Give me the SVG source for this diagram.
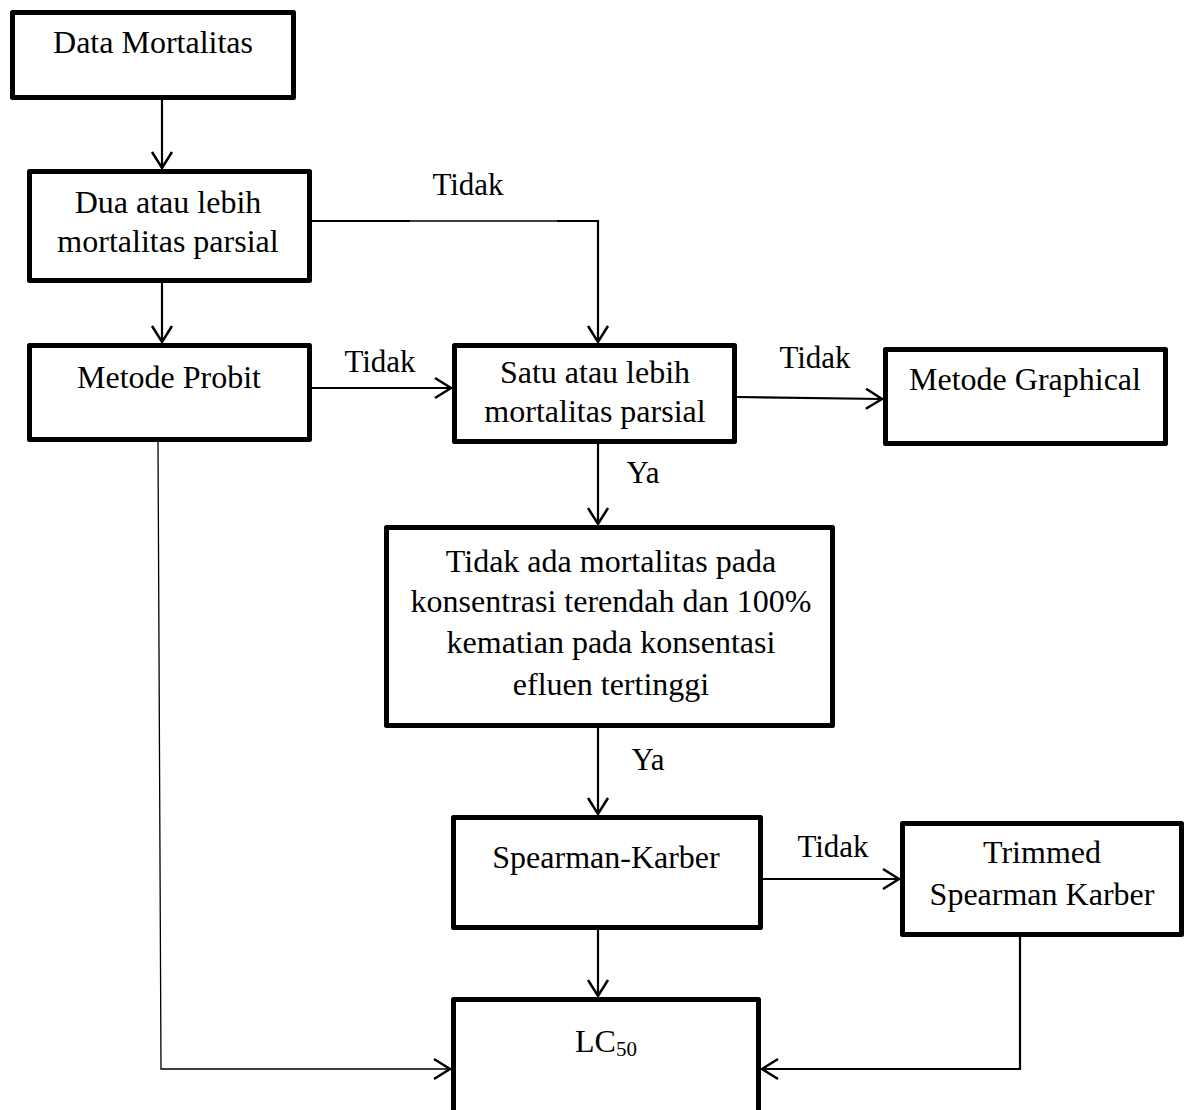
<svg xmlns="http://www.w3.org/2000/svg" width="1190" height="1110" viewBox="0 0 1190 1110">
<style>
.box{fill:#fff;stroke:#000;stroke-width:5;stroke-linejoin:round}
.t{font-family:"Liberation Serif","Times New Roman",serif;font-size:32px;fill:#000;text-anchor:middle}
.lbl{font-family:"Liberation Serif","Times New Roman",serif;font-size:31px;fill:#000;text-anchor:middle}
.c{fill:none;stroke:#000;stroke-width:2.2}
.thin{fill:none;stroke:#000;stroke-width:1.3}
</style>
<defs>
<marker id="ah" markerUnits="userSpaceOnUse" markerWidth="40" markerHeight="40" refX="0" refY="0" orient="auto" overflow="visible">
<path d="M-16,-10 L0,0 L-16,10" fill="none" stroke="#000" stroke-width="2.5"/>
</marker>
</defs>
<rect width="1190" height="1110" fill="#fff"/>
<g id="connectors">
<line class="c" x1="162" y1="100" x2="162" y2="168" marker-end="url(#ah)"/>
<line class="c" x1="162" y1="283" x2="162" y2="342" marker-end="url(#ah)"/>
<line class="c" x1="312" y1="221" x2="410" y2="221"/>
<line class="thin" x1="410" y1="221" x2="557" y2="221"/>
<path class="c" d="M557,221 L598,221 L598,342" marker-end="url(#ah)"/>
<line class="c" x1="312" y1="388" x2="451" y2="388" marker-end="url(#ah)"/>
<line class="c" x1="737" y1="397" x2="882" y2="399" marker-end="url(#ah)"/>
<line class="c" x1="598" y1="444" x2="598" y2="524" marker-end="url(#ah)"/>
<line class="c" x1="598" y1="728" x2="598" y2="814" marker-end="url(#ah)"/>
<line class="c" x1="763" y1="879" x2="899" y2="879" marker-end="url(#ah)"/>
<line class="c" x1="598" y1="930" x2="598" y2="996" marker-end="url(#ah)"/>
<path class="thin" d="M158,442 L161,1069 L450,1069" marker-end="url(#ah)"/>
<path class="c" d="M1020,937 L1020,1069 L762,1069" marker-end="url(#ah)"/>
<text class="lbl" x="468" y="195">Tidak</text>
<text class="lbl" x="380" y="372">Tidak</text>
<text class="lbl" x="815" y="368">Tidak</text>
<text class="lbl" x="643" y="483">Ya</text>
<text class="lbl" x="648" y="770">Ya</text>
<text class="lbl" x="833" y="857">Tidak</text>
</g>
<g id="n1"><rect class="box" x="12.5" y="12.5" width="281" height="85"/><text class="t" x="153" y="53">Data Mortalitas</text></g>
<g id="n2"><rect class="box" x="29.5" y="171.5" width="280" height="109"/><text class="t" x="168" y="213">Dua atau lebih</text><text class="t" x="168" y="252">mortalitas parsial</text></g>
<g id="n3"><rect class="box" x="29.5" y="345.5" width="280" height="94"/><text class="t" x="169" y="388">Metode Probit</text></g>
<g id="n4"><rect class="box" x="454.5" y="345.5" width="280" height="96"/><text class="t" x="595" y="383">Satu atau lebih</text><text class="t" x="595" y="422">mortalitas parsial</text></g>
<g id="n5"><rect class="box" x="885.5" y="349.5" width="280" height="94"/><text class="t" x="1025" y="390">Metode Graphical</text></g>
<g id="n6"><rect class="box" x="386.5" y="527.5" width="446" height="198"/><text class="t" x="611" y="572">Tidak ada mortalitas pada</text><text class="t" x="611" y="612">konsentrasi terendah dan 100%</text><text class="t" x="611" y="653">kematian pada konsentasi</text><text class="t" x="611" y="695">efluen tertinggi</text></g>
<g id="n7"><rect class="box" x="453.5" y="817.5" width="307" height="110"/><text class="t" x="606" y="868">Spearman-Karber</text></g>
<g id="n8"><rect class="box" x="902.5" y="823.5" width="279" height="111"/><text class="t" x="1042" y="863">Trimmed</text><text class="t" x="1042" y="905">Spearman Karber</text></g>
<g id="n9"><rect class="box" x="453.5" y="999.5" width="305" height="130"/><text class="t" x="606" y="1052">LC<tspan font-size="21" dy="4">50</tspan></text></g>
</svg>
